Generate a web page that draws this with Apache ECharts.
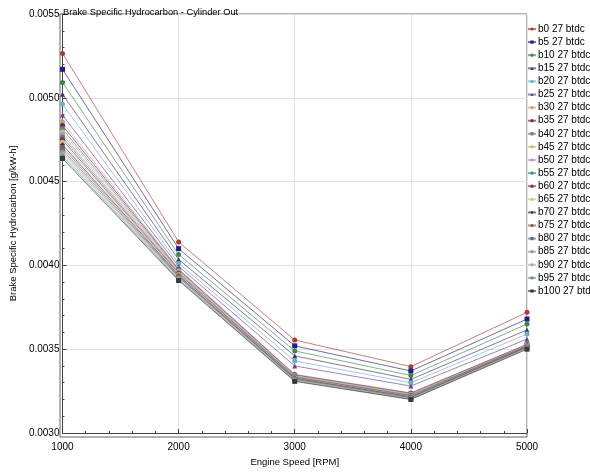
<!DOCTYPE html>
<html><head><meta charset="utf-8">
<script src="https://cdn.jsdelivr.net/npm/echarts@6/dist/echarts.min.js"></script>
<style>html,body{margin:0;padding:0;background:#fff}#c{width:590px;height:472px}</style>
</head><body><div id="c"></div>
<script>
var speeds = [1000, 2000, 3000, 4000, 5000];
var seriesNames = ['b0 27 btdc','b5 27 btdc','b10 27 btdc','b15 27 btdc','b20 27 btdc','b25 27 btdc','b30 27 btdc','b35 27 btdc','b40 27 btdc','b45 27 btdc','b50 27 btdc','b55 27 btdc','b60 27 btdc','b65 27 btdc','b70 27 btdc','b75 27 btdc','b80 27 btdc','b85 27 btdc','b90 27 btdc','b95 27 btdc','b100 27 btdc'];
var b0   = [0.005265, 0.00414,  0.003555, 0.003396, 0.00372];
var b5   = [0.005170, 0.00410,  0.00352,  0.00337,  0.00368];
var b10  = [0.005092, 0.004065, 0.00349,  0.003343, 0.00365];
var b15  = [0.005021, 0.004035, 0.00346,  0.00332,  0.003615];
var b20  = [0.004962, 0.004012, 0.00343,  0.00330,  0.00359];
var b25  = [0.004897, 0.003994, 0.00340,  0.00328,  0.00356];
var b30  = [0.004855, 0.00398,  0.00335,  0.00324,  0.00353];
var b35  = [0.004835, 0.003975, 0.003347, 0.003237, 0.003528];
var b40  = [0.004815, 0.00397,  0.003344, 0.003234, 0.003526];
var b45  = [0.004798, 0.003965, 0.003341, 0.003231, 0.003524];
var b50  = [0.004780, 0.00396,  0.003338, 0.003228, 0.003522];
var b55  = [0.004765, 0.003955, 0.003335, 0.003225, 0.00352];
var b60  = [0.004750, 0.00395,  0.003332, 0.003222, 0.003518];
var b65  = [0.004735, 0.003945, 0.003329, 0.003219, 0.003516];
var b70  = [0.004720, 0.00394,  0.003326, 0.003216, 0.003514];
var b75  = [0.004705, 0.003935, 0.003323, 0.003213, 0.003512];
var b80  = [0.004690, 0.00393,  0.00332,  0.00321,  0.00351];
var b85  = [0.004676, 0.003925, 0.003317, 0.003207, 0.003508];
var b90  = [0.004662, 0.00392,  0.003314, 0.003204, 0.003506];
var b95  = [0.004650, 0.003915, 0.003311, 0.003202, 0.003503];
var b100 = [0.004638, 0.00391,  0.003308, 0.0032,   0.0035];
var allValues = [b0,b5,b10,b15,b20,b25,b30,b35,b40,b45,b50,b55,b60,b65,b70,b75,b80,b85,b90,b95,b100];

var colors = ['#b0382e','#1c1c90','#3a8a3a','#4a2a7a','#5fb8c0','#7a3a9a','#c8a070','#6a2a5a','#6a7a9a','#c8c060','#b890c8','#3a8a8a','#8a2a3a','#d8c070','#2a2a6a','#8a5a4a','#5a6a8a','#8a9a9a','#b0a0c0','#5aa05a','#3a3a3a'];
var symbols = ['circle','rect','circle','triangle','circle','triangle','circle','circle','rect','circle','circle','circle','circle','circle','diamond','circle','rect','circle','circle','circle','rect'];

var chart = echarts.init(document.getElementById('c'), null, {renderer:'canvas'});
var series = seriesNames.map(function(n,i){
  return {
    name: n, type: 'line',
    data: speeds.map(function(s,j){ return [s, allValues[i][j]]; }),
    symbol: symbols[i], symbolSize: 5,
    itemStyle: {color: colors[i]},
    lineStyle: {width: 1, color: colors[i], opacity: 0.65},
    animation: false
  };
});
var font = 'Liberation Sans';
chart.setOption({
  animation: false,
  color: colors,
  title: {text: 'Brake Specific Hydrocarbon - Cylinder Out', left: 58, top: 3,
    textStyle: {fontFamily: font, fontSize: 9.3, fontWeight: 'normal', color: '#000'}},
  grid: {left: 60, right: 63, top: 14, bottom: 35},
  legend: {orient: 'vertical', left: 527, top: 24, padding: 0, itemGap: 3.1, itemWidth: 8, itemHeight: 4,
    textStyle: {fontFamily: font, fontSize: 10, color: '#000', padding: [0,0,0,-3]},
    data: seriesNames},
  xAxis: {type: 'value', min: 1000, max: 5000, interval: 1000,
    name: 'Engine Speed [RPM]', nameLocation: 'middle', nameGap: 24,
    nameTextStyle: {fontFamily: font, fontSize: 9.5, color: '#000'},
    axisLine: {show: true, onZero: false, lineStyle: {color: '#444', width: 1}},
    axisTick: {show: true, inside: true, length: 4, lineStyle: {color: '#444'}},
    minorTick: {show: true, splitNumber: 5, length: 2, lineStyle: {color: '#444'}},
    axisLabel: {fontFamily: font, fontSize: 10, color: '#000', margin: 9,
      formatter: function(v){ return String(v); }},
    splitLine: {show: true, lineStyle: {color: '#e2e2e2'}}},
  yAxis: {type: 'value', min: 0.0030, max: 0.0055, interval: 0.0005,
    name: 'Brake Specific Hydrocarbon [g/kW-h]', nameLocation: 'middle', nameGap: 39,
    nameTextStyle: {fontFamily: font, fontSize: 9.5, color: '#000'},
    axisLine: {show: true, onZero: false, lineStyle: {color: '#444', width: 1}},
    axisTick: {show: true, inside: true, length: 4, lineStyle: {color: '#444'}},
    minorTick: {show: true, splitNumber: 5, length: 2, lineStyle: {color: '#444'}},
    axisLabel: {fontFamily: font, fontSize: 10, color: '#000', margin: 3,
      formatter: function(v){ return v.toFixed(4); }},
    splitLine: {show: true, lineStyle: {color: '#e2e2e2'}}},
  graphic: [{type: 'rect', shape: {x: 60, y: 14, width: 467, height: 423}, silent: true, z: 0,
    style: {fill: 'none', stroke: '#666', lineWidth: 1}}],
  series: series
});
</script></body></html>
